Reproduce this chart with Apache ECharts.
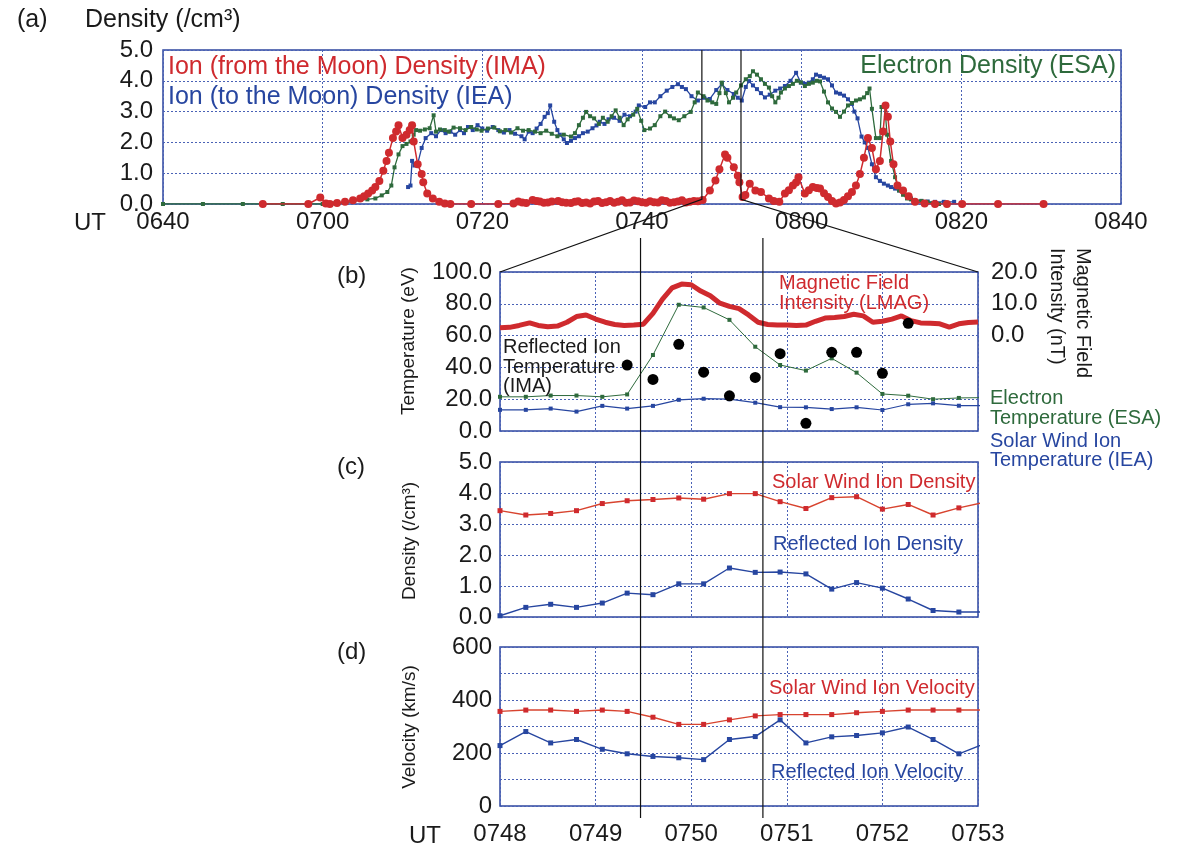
<!DOCTYPE html>
<html>
<head>
<meta charset="utf-8">
<script src="https://cdn.jsdelivr.net/npm/echarts@6/dist/echarts.min.js"></script>
<style>
  html, body { margin: 0; padding: 0; background: #fff; }
  #chart { width: 1177px; height: 849px; }
</style>
</head>
<body>
<div id="chart"></div>
<script>
// ---------- (a) overview densities, time in minutes after 06:40 UT ----------
const imaTime = [12.5, 18.2, 19.7, 20.4, 20.9, 21.8, 22.8, 23.8, 24.7, 25.2, 25.7, 26.2, 26.6, 27.1, 27.6, 28.0, 28.3, 28.8, 29.2, 29.5,
  30.0, 30.5, 30.9, 31.2, 31.4, 31.9, 32.4, 32.6, 33.1, 33.8, 34.6, 35.3, 36.0, 38.6, 42.0,
  43.9, 44.5, 45.0, 45.5, 46.3, 46.8, 47.2, 47.7, 48.2, 48.7, 49.5, 50.0, 50.5, 51.1, 51.6, 52.0, 52.5, 53.0, 53.5, 54.0,
  54.5, 55.0, 55.5, 56.0, 56.5, 57.0, 57.5, 58.0, 58.5, 59.0, 59.5, 60.0, 60.5, 61.0, 61.5, 62.0, 62.5, 63.0, 63.5, 64.0,
  64.5, 65.0, 65.5, 66.0, 66.5, 67.0, 67.6,
  68.5, 69.2, 69.7, 70.4, 70.7, 71.5, 72.0, 72.2, 72.6, 72.95, 73.5, 74.2, 74.9, 75.9, 76.5, 77.2, 77.9, 78.4, 78.9, 79.3, 79.6,
  80.4, 80.9, 81.4, 81.9, 82.3, 82.8, 83.3, 83.8, 84.3, 84.8, 85.3, 85.8, 86.3, 86.8, 87.3, 87.8, 88.3, 88.8, 89.3, 89.8,
  90.2, 90.5, 90.8, 91.1, 91.5, 92.0, 92.7, 93.4, 94.2, 95.4, 96.7, 98.2, 100.1, 104.6, 110.3];
const imaDensity = [0, 0, 0.21, 0.02, 0, 0.03, 0.07, 0.12, 0.18, 0.25, 0.34, 0.44, 0.55, 0.75, 1.08, 1.4, 1.66, 2.14, 2.35, 2.56,
  2.14, 2.25, 2.4, 2.56, 2.03, 1.29, 0.97, 0.71, 0.34, 0.18, 0.07, 0.02, 0, 0, 0,
  0.02, 0.08, 0.05, 0.03, 0.13, 0.1, 0.08, 0.04, 0.05, 0.08, 0.1, 0.06, 0.04, 0.03, 0.07, 0.09, 0.03, 0.05, 0.02, 0.08,
  0.1, 0.03, 0.06, 0.1, 0.04, 0.07, 0.12, 0.04, 0.05, 0.11, 0.09, 0.06, 0.04, 0.09, 0.06, 0.05, 0.12, 0.1, 0.04, 0.06,
  0.08, 0.12, 0.05, 0.07, 0.1, 0.09, 0.13,
  0.44, 0.76, 1.13, 1.61, 1.5, 1.19, 0.92, 0.71, 0.23, 0.29, 0.66, 0.44, 0.39, 0.18, 0.1, 0.07, 0.34, 0.45, 0.6, 0.7, 0.87,
  0.34, 0.45, 0.55, 0.52, 0.5, 0.35, 0.23, 0.1, 0.02, 0.05, 0.13, 0.25, 0.39, 0.6, 0.97, 1.5, 2.14, 1.82, 1.13, 1.4,
  2.35, 3.2, 2.83, 2.03, 1.29, 0.6, 0.44, 0.25, 0.07, 0.02, 0, 0, 0, 0, 0];

const ieaTime = [30.7, 31.0, 31.2, 31.5, 31.9, 32.4, 32.9, 33.6, 34.2, 34.8, 35.4, 36.0, 36.6, 37.2, 37.7, 38.2, 38.8, 39.4, 40.0, 40.6,
  41.3, 42.0, 42.7, 43.4, 44.1, 44.9, 45.3, 45.8, 46.3, 46.8, 47.3, 47.8, 48.2, 48.5, 49.0, 49.4, 49.7, 50.2, 50.6, 51.1,
  51.6, 52.1, 52.6, 53.2, 53.8, 54.3, 54.7, 55.3, 55.8, 56.5, 57.2, 57.8, 58.5, 59.2, 59.6, 60.4, 61.0, 61.6, 62.3, 63.1,
  63.8, 64.5, 65.0, 65.5, 66.2, 67.0, 67.8, 68.5, 69.3, 70.0, 70.7, 71.5, 72.0, 72.5, 73.0, 73.4, 73.9, 74.4, 74.9, 75.4,
  76.0, 76.7, 77.3, 77.9, 78.6, 79.3, 79.9, 80.4, 80.9, 81.4, 81.8, 82.3, 82.8, 83.3, 83.8, 84.3, 84.8, 85.3, 85.8, 86.3,
  86.6, 87.0, 87.5, 87.9, 88.3, 88.8, 89.3, 89.8, 90.3, 90.8, 91.2, 91.7, 92.2, 92.7, 93.2, 93.7, 94.2, 95.0, 95.8, 96.7,
  97.8, 99.1];
const ieaDensity = [0.55, 0.6, 1.4, 1.25, 1.3, 1.82, 2.14, 2.3, 2.2, 2.4, 2.3, 2.35, 2.25, 2.4, 2.3, 2.5, 2.4, 2.56, 2.45, 2.38,
  2.5, 2.4, 2.32, 2.4, 2.28, 2.2, 2.1, 2.35, 2.3, 2.45, 2.6, 2.83, 2.95, 3.2, 2.67, 2.4, 2.25, 2.1, 1.98, 2.05,
  2.14, 2.2, 2.3, 2.35, 2.46, 2.55, 2.67, 2.6, 2.75, 2.8, 2.7, 2.9, 2.85, 3.0, 3.2, 3.15, 3.3, 3.3, 3.5, 3.68,
  3.8, 3.89, 3.8, 3.73, 3.5, 3.36, 3.45, 3.41, 3.7, 3.89, 3.7, 3.57, 3.45, 3.36, 3.8, 3.99, 3.85, 3.73, 3.6, 3.46,
  3.55, 3.68, 3.75, 3.83, 4.0, 4.26, 3.94, 3.9, 3.94, 4.05, 4.2, 4.15, 4.1, 4.05, 3.85, 3.62, 3.58, 3.52, 3.4, 3.25,
  3.0, 2.78, 2.19, 2.0, 1.82, 1.29, 0.87, 0.75, 0.66, 0.6, 0.55, 0.5, 0.44, 0.35, 0.23, 0.18, 0.13, 0.1, 0.08, 0.07,
  0.07, 0.07];

const esaTime = [0, 5, 10, 15, 20, 21.5, 22.8, 23.8, 24.7, 25.6, 26.6, 27.4, 28.1, 28.6, 29.0, 29.5, 30.0, 30.5, 31.0, 31.4,
  31.7, 32.2, 32.8, 33.4, 33.9, 34.2, 34.7, 35.3, 35.8, 36.4, 37.2, 37.9, 38.6, 39.3, 39.9, 40.7, 41.5, 42.2, 42.9, 43.6,
  44.4, 45.1, 45.8, 46.6, 47.3, 48.0, 48.7, 49.4, 50.2, 51.1, 51.6, 52.1, 52.6, 53.0, 53.5, 54.0, 54.6, 55.1, 55.7, 56.2,
  56.7, 57.2, 57.7, 58.2, 58.9, 59.4, 59.9, 60.3, 61.0, 61.6, 62.3, 62.9, 63.5, 64.0, 64.6, 65.3, 66.1, 66.6, 67.0, 67.7,
  68.2, 68.8, 69.3, 69.7, 70.0, 70.5, 70.9, 71.4, 71.8, 72.4, 73.0, 73.5, 73.9, 74.4, 74.9, 75.4, 75.9, 76.3, 76.7, 77.1,
  77.4, 77.9, 78.4, 78.9, 79.4, 79.9, 80.4, 80.9, 81.4, 81.9, 82.3, 82.8, 83.3, 83.8, 84.3, 84.8, 85.3, 85.8, 86.3, 86.8,
  87.3, 87.8, 88.2, 88.5, 88.8, 89.3, 89.8, 90.0, 90.4, 90.7, 91.2, 91.7, 92.2, 92.7, 93.2, 93.7, 94.2, 95.0, 95.7, 96.5,
  97.2];
const esaDensity = [0, 0, 0, 0, 0, 0.02, 0.04, 0.08, 0.13, 0.15, 0.18, 0.28, 0.39, 0.6, 1.19, 1.61, 1.88, 1.95, 2.03, 2.25,
  2.4, 2.38, 2.42, 2.46, 2.88, 2.35, 2.42, 2.4, 2.35, 2.48, 2.46, 2.4, 2.5, 2.42, 2.38, 2.45, 2.48, 2.36, 2.4, 2.32,
  2.46, 2.38, 2.4, 2.35, 2.3, 2.38, 2.28, 2.2, 2.25, 2.19, 2.3, 2.56, 2.8, 2.99, 2.85, 2.78, 2.6, 2.8, 2.67, 2.85,
  3.04, 2.8, 2.56, 2.75, 2.9, 3.09, 2.7, 2.4, 2.45, 2.56, 2.85, 3.0, 2.85, 2.78, 2.72, 2.85, 2.99, 3.3, 3.62, 3.5,
  3.36, 3.3, 3.25, 3.6, 3.94, 3.6, 3.3, 3.45, 3.62, 3.85, 4.05, 4.15, 4.31, 4.2, 4.05, 3.9, 3.78, 3.5, 3.3, 3.45,
  3.62, 3.75, 3.83, 3.9, 4.0, 3.95, 3.83, 3.9, 3.94, 4.0, 3.98, 3.65, 3.3, 3.1, 2.99, 2.83, 3.0, 3.2, 3.28, 3.36,
  3.4, 3.46, 3.6, 3.75, 3.09, 2.14, 2.14, 3.15, 3.2, 2.25, 1.4, 0.87, 0.44, 0.3, 0.18, 0.15, 0.13, 0.1, 0.07, 0.04,
  0];

// ---------- (b)-(d) detail, time in minutes after 07:00 UT ----------
const magTime = [48.0, 48.1, 48.2, 48.31, 48.4, 48.5, 48.6, 48.7, 48.8, 48.9, 49.0, 49.1, 49.2, 49.3, 49.4, 49.5, 49.6, 49.7, 49.8, 49.9,
  50.0, 50.1, 50.2, 50.3, 50.4, 50.5, 50.6, 50.7, 50.8, 50.9, 51.0, 51.1, 51.2, 51.3, 51.4, 51.5, 51.6, 51.7, 51.8, 51.9,
  52.0, 52.1, 52.2, 52.3, 52.4, 52.5, 52.6, 52.7, 52.8, 52.9, 53.0];
const magField = [2.5, 2.6, 3.2, 4.0, 3.2, 2.8, 3.0, 4.2, 6.0, 6.5, 5.2, 4.2, 3.5, 3.2, 3.3, 3.6, 7.0, 11.5, 15.0, 16.2,
  16.0, 14.0, 12.5, 10.2, 9.2, 8.5, 6.5, 4.2, 3.5, 3.3, 3.3, 3.2, 3.3, 4.5, 5.5, 5.7, 6.0, 6.7, 6.2, 4.2,
  4.5, 5.2, 6.2, 4.7, 4.0, 3.9, 3.7, 2.7, 3.7, 4.1, 4.3];

const sampleTime = [48.00, 48.27, 48.53, 48.80, 49.07, 49.33, 49.60, 49.87, 50.13, 50.40,
  50.67, 50.93, 51.20, 51.47, 51.73, 52.00, 52.27, 52.53, 52.80, 53.07];
const electronTemp = [21.5, 21.5, 22.3, 22.3, 21.5, 23.0, 47.8, 79.4, 77.7, 69.9, 53.0, 41.5, 38.0, 45.7, 36.7, 23.3, 22.2, 20.0, 20.8, 21.0];
const swIonTemp = [13.3, 13.3, 14.1, 12.2, 15.8, 14.1, 15.8, 19.6, 20.3, 20.0, 17.8, 15.0, 14.9, 13.8, 14.9, 13.2, 16.8, 17.4, 15.9, 16.0];
const reflIonTemp = [null, null, null, null, null, 41.5, 32.4, 54.5, 37.0, 22.1, 33.7, 48.6, 4.8, 49.5, 49.5, 36.3, 67.7, null, null, null];
const swDensity = [3.43, 3.29, 3.34, 3.43, 3.66, 3.75, 3.79, 3.84, 3.80, 3.98, 3.98, 3.72, 3.50, 3.85, 3.88, 3.48, 3.63, 3.29, 3.52, 3.70];
const reflDensity = [0.04, 0.31, 0.41, 0.31, 0.45, 0.77, 0.72, 1.07, 1.07, 1.58, 1.44, 1.45, 1.39, 0.90, 1.11, 0.93, 0.58, 0.21, 0.16, 0.16];
const swVelocity = [357, 362, 362, 357, 362, 357, 335, 308, 308, 325, 340, 345, 345, 345, 352, 357, 362, 362, 362, 362];
const reflVelocity = [228, 281, 238, 251, 214, 197, 187, 182, 175, 251, 262, 325, 238, 261, 266, 276, 298, 251, 197, 235];

// zoomed interval marked in (a) and the event interval marked in (b)-(d)
const zoomStart = 67.5, zoomEnd = 72.4;       // minutes after 06:40
const eventStart = 49.47, eventEnd = 50.75;   // minutes after 07:00

// ---------- styling ----------
const FONT = '"Liberation Sans", Arial, Helvetica, sans-serif';
const BORDER = '#2f47a0';
const GRIDC = '#4a62b6';
const RED = '#cf2a2e';
const RED2 = '#d8442f';
const BLUE = '#2746a0';
const GREEN = '#2e6a3c';
const INK = '#1a1a1a';

const zip = (xs, ys) => xs.map((x, i) => [x, ys[i]]).filter(d => d[1] !== null);
const hhmm = m => { const t = 400 + m; const h = Math.floor(t / 60), mm = t % 60; return String(h).padStart(2, '0') + String(mm).padStart(2, '0'); };

const dotted = { show: true, lineStyle: { color: GRIDC, width: 1, type: [2, 2] } };
const gridBase = { show: true, borderColor: BORDER, borderWidth: 1.5, backgroundColor: 'transparent', containLabel: false, outerBoundsMode: 'none' };
const tickFont = { fontFamily: FONT, fontSize: 24, color: INK };

const xBase = { type: 'value', axisLine: { show: false }, axisTick: { show: false }, splitLine: dotted };
const yBase = { type: 'value', axisLine: { show: false }, axisTick: { show: false }, splitLine: dotted };

const chart = echarts.init(document.getElementById('chart'), null, { renderer: 'canvas' });

chart.setOption({
  animation: false,
  backgroundColor: '#fff',
  grid: [
    Object.assign({ left: 163, top: 50, width: 958, height: 154 }, gridBase),
    Object.assign({ left: 500, top: 272, width: 478, height: 159 }, gridBase),
    Object.assign({ left: 500, top: 462, width: 478, height: 155 }, gridBase),
    Object.assign({ left: 500, top: 647, width: 478, height: 159 }, gridBase)
  ],
  xAxis: [
    Object.assign({ gridIndex: 0, min: 0, max: 120, interval: 20,
      axisLabel: Object.assign({ formatter: hhmm, margin: 6 }, tickFont) }, xBase),
    Object.assign({ gridIndex: 1, min: 48, max: 53, interval: 1, axisLabel: { show: false } }, xBase),
    Object.assign({ gridIndex: 2, min: 48, max: 53, interval: 1, axisLabel: { show: false } }, xBase),
    Object.assign({ gridIndex: 3, min: 48, max: 53, interval: 1,
      axisLabel: Object.assign({ formatter: v => '07' + v, margin: 16 }, tickFont) }, xBase)
  ],
  yAxis: [
    Object.assign({ gridIndex: 0, min: 0, max: 5, interval: 1,
      axisLabel: Object.assign({ formatter: v => v.toFixed(1), margin: 10 }, tickFont) }, yBase),
    Object.assign({ gridIndex: 1, min: 0, max: 100, interval: 20,
      axisLabel: Object.assign({ formatter: v => v.toFixed(1), margin: 8 }, tickFont) }, yBase),
    Object.assign({ gridIndex: 1, position: 'right', min: -30, max: 20, interval: 10,
      axisLabel: Object.assign({ formatter: v => (v >= 0 ? v.toFixed(1) : ''), margin: 13 }, tickFont) },
      yBase, { splitLine: { show: false } }),
    Object.assign({ gridIndex: 2, min: 0, max: 5, interval: 1,
      axisLabel: Object.assign({ formatter: v => v.toFixed(1), margin: 8 }, tickFont) }, yBase),
    Object.assign({ gridIndex: 3, min: 0, max: 600, interval: 100,
      axisLabel: Object.assign({ formatter: v => (v % 200 === 0 ? String(v) : ''), margin: 8 }, tickFont) }, yBase)
  ],
  series: [
    // (a)
    { name: 'IEA', type: 'line', xAxisIndex: 0, yAxisIndex: 0, data: zip(ieaTime, ieaDensity),
      symbol: 'rect', symbolSize: 4, lineStyle: { color: BLUE, width: 1.3 }, itemStyle: { color: BLUE }, z: 3 },
    { name: 'ESA', type: 'line', xAxisIndex: 0, yAxisIndex: 0, data: zip(esaTime, esaDensity),
      symbol: 'rect', symbolSize: 4, lineStyle: { color: GREEN, width: 1.3 }, itemStyle: { color: GREEN }, z: 4 },
    { name: 'IMA', type: 'line', xAxisIndex: 0, yAxisIndex: 0, data: zip(imaTime, imaDensity),
      symbol: 'circle', symbolSize: 8, lineStyle: { color: RED, width: 1.5 }, itemStyle: { color: RED }, z: 5 },
    // (b)
    { name: 'LMAG', type: 'line', xAxisIndex: 1, yAxisIndex: 2, data: zip(magTime, magField),
      symbol: 'none', lineStyle: { color: RED, width: 5 }, z: 2 },
    { name: 'ESA Te', type: 'line', xAxisIndex: 1, yAxisIndex: 1, data: zip(sampleTime, electronTemp),
      symbol: 'rect', symbolSize: 4, lineStyle: { color: GREEN, width: 1 }, itemStyle: { color: GREEN }, z: 3 },
    { name: 'IEA Ti', type: 'line', xAxisIndex: 1, yAxisIndex: 1, data: zip(sampleTime, swIonTemp),
      symbol: 'rect', symbolSize: 4, lineStyle: { color: BLUE, width: 1.2 }, itemStyle: { color: BLUE }, z: 3 },
    { name: 'IMA Ti', type: 'scatter', xAxisIndex: 1, yAxisIndex: 1, data: zip(sampleTime, reflIonTemp),
      symbol: 'circle', symbolSize: 11, itemStyle: { color: '#000', opacity: 1 }, z: 5 },
    // (c)
    { name: 'SW density', type: 'line', xAxisIndex: 2, yAxisIndex: 3, data: zip(sampleTime, swDensity),
      symbol: 'rect', symbolSize: 5, lineStyle: { color: RED2, width: 1.4 }, itemStyle: { color: RED }, z: 3 },
    { name: 'Reflected density', type: 'line', xAxisIndex: 2, yAxisIndex: 3, data: zip(sampleTime, reflDensity),
      symbol: 'rect', symbolSize: 5, lineStyle: { color: BLUE, width: 1.4 }, itemStyle: { color: BLUE }, z: 3 },
    // (d)
    { name: 'SW velocity', type: 'line', xAxisIndex: 3, yAxisIndex: 4, data: zip(sampleTime, swVelocity),
      symbol: 'rect', symbolSize: 5, lineStyle: { color: RED2, width: 1.4 }, itemStyle: { color: RED }, z: 3 },
    { name: 'Reflected velocity', type: 'line', xAxisIndex: 3, yAxisIndex: 4, data: zip(sampleTime, reflVelocity),
      symbol: 'rect', symbolSize: 5, lineStyle: { color: BLUE, width: 1.4 }, itemStyle: { color: BLUE }, z: 3 }
  ]
});

// ---------- text and connector lines ----------
function txt(text, x, y, opts) {
  opts = opts || {};
  const size = opts.size || 20;
  return {
    type: 'text', x: x, y: y, rotation: opts.rot || 0, z: 100, silent: true,
    style: {
      text: text, x: 0, y: 0, fill: opts.color || INK,
      font: size + 'px ' + FONT,
      textAlign: opts.align || 'left', align: opts.align || 'left',
      textVerticalAlign: 'middle', verticalAlign: 'middle'
    }
  };
}
function line(points) {
  return { type: 'polyline', z: 90, silent: true, shape: { points: points },
    style: { stroke: '#111', lineWidth: 1.2, fill: null } };
}

const px = (xi, yi, pt) => chart.convertToPixel({ xAxisIndex: xi, yAxisIndex: yi }, pt);
const aZ1Top = px(0, 0, [zoomStart, 5]), aZ1Bot = px(0, 0, [zoomStart, 0.15]);
const aZ2Top = px(0, 0, [zoomEnd, 5]), aZ2Bot = px(0, 0, [zoomEnd, 0.15]);
const bTL = px(1, 1, [48, 100]), bTR = px(1, 1, [53, 100]);
const ev1 = px(3, 4, [eventStart, 0]), ev2 = px(3, 4, [eventEnd, 0]);
const evTop = px(0, 0, [0, 0])[1] + 34, evBot = ev1[1] + 12;

const elements = [
  // connectors
  line([aZ1Top, aZ1Bot, bTL]),
  line([aZ2Top, aZ2Bot, bTR]),
  line([[ev1[0], evTop], [ev1[0], evBot]]),
  line([[ev2[0], evTop], [ev2[0], evBot]]),
  // (a)
  txt('(a)', 17, 20, { size: 25 }),
  txt('Density (/cm³)', 85, 20, { size: 25 }),
  txt('UT', 106, 223, { size: 24, align: 'right' }),
  txt('Ion (from the Moon) Density (IMA)', 168, 67, { size: 25, color: RED }),
  txt('Ion (to the Moon) Density (IEA)', 168, 97, { size: 25, color: BLUE }),
  txt('Electron Density (ESA)', 1116, 66, { size: 25, color: GREEN, align: 'right' }),
  // (b)
  txt('(b)', 337, 276, { size: 24 }),
  txt('Temperature (eV)', 409, 341, { size: 19, align: 'center', rot: Math.PI / 2 }),
  txt('Magnetic Field', 779, 283, { color: RED }),
  txt('Intensity (LMAG)', 779, 303, { color: RED }),
  txt('Reflected Ion', 503, 347),
  txt('Temperature', 503, 367),
  txt('(IMA)', 503, 386),
  txt('Magnetic Field', 1083, 248, { rot: -Math.PI / 2 }),
  txt('Intensity (nT)', 1057, 248, { rot: -Math.PI / 2 }),
  txt('Electron', 990, 398, { color: GREEN }),
  txt('Temperature (ESA)', 990, 418, { color: GREEN }),
  txt('Solar Wind Ion', 990, 441, { color: BLUE }),
  txt('Temperature (IEA)', 990, 460, { color: BLUE }),
  // (c)
  txt('(c)', 337, 467, { size: 24 }),
  txt('Density (/cm³)', 410, 541, { size: 19, align: 'center', rot: Math.PI / 2 }),
  txt('Solar Wind Ion Density', 772, 482, { color: RED }),
  txt('Reflected Ion Density', 773, 544, { color: BLUE }),
  // (d)
  txt('(d)', 337, 652, { size: 24 }),
  txt('Velocity (km/s)', 410, 727, { size: 19, align: 'center', rot: Math.PI / 2 }),
  txt('Solar Wind Ion Velocity', 769, 688, { color: RED }),
  txt('Reflected Ion Velocity', 771, 772, { color: BLUE }),
  txt('UT', 441, 836, { size: 24, align: 'right' })
];

chart.setOption({ graphic: { elements: elements } });
</script>
</body>
</html>
